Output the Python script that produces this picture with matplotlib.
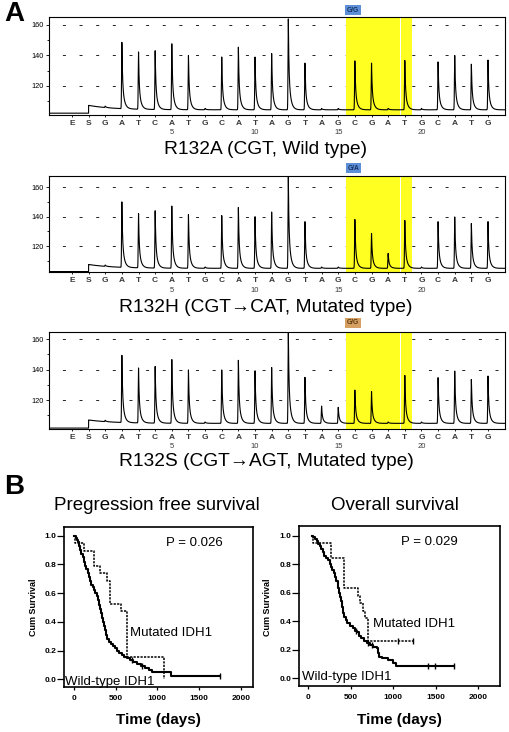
import numpy as np
import matplotlib
matplotlib.use("Agg")
import matplotlib.pyplot as plt
from matplotlib.transforms import blended_transform_factory

plt.rcParams['font.family'] = ['Liberation Sans', 'DejaVu Sans']
plt.rcParams['lines.scale_dashes'] = False

W, H = 510, 732

# ---- panel A: pyrosequencing traces ----
dispensation = ['E', 'S', 'G', 'A', 'T', 'C', 'A', 'T', 'G', 'C', 'A', 'T', 'A',
                'G', 'T', 'A', 'G', 'C', 'G', 'A', 'T', 'G', 'C', 'A', 'T', 'G']
position_labels = {6: '5', 11: '10', 16: '15', 21: '20'}

# peak top (signal units) per dispensation, 0 = no incorporation
peaks_r132a = [0, 0, 0, 148, 142, 143, 148, 140, 0, 139, 145.6, 139, 141.4,
               164.5, 135, 0, 0, 136.6, 135, 0, 137, 0, 136, 140, 134.4, 137]
peaks_r132h = [0, 0, 0, 149.5, 141.8, 143.9, 147.5, 141.4, 0, 140.7, 146.4, 140, 143.2,
               168, 136.6, 0, 0, 138.2, 128.6, 115, 137.7, 0, 136.8, 139.8, 135.5, 136.6]
peaks_r132s = [0, 0, 0, 148.9, 140.8, 141.9, 146.9, 139.7, 0, 139.7, 146.2, 139.2, 141.4,
               166, 134.9, 116.1, 115.2, 126.6, 125.5, 0, 136.4, 0, 134.9, 139, 133.6, 135.7]

# baseline: before enzyme, after substrate step, settled
base_r132a = [102.2, 107.3, 104.4]
base_r132h = [102.7, 107.5, 104.9]
base_r132s = [101.6, 106.9, 104.7]

titles_a = ['R132A (CGT, Wild type)', 'R132H (CGT\u2192CAT, Mutated type)',
            'R132S (CGT\u2192AGT, Mutated type)']
badges = ['G/G', 'G/A', 'G/G']

# ---- panel B: Kaplan-Meier curves ----
pfs_wt_t = [0, 20, 35, 50, 60, 75, 90, 105, 120, 135, 150, 165, 180, 195, 210, 225, 240,
            255, 275, 290, 300, 312, 322, 335, 350, 362, 375, 388, 400, 415, 440, 465,
            490, 515, 545, 575, 600, 630, 670, 710, 760, 800, 850, 900, 930, 1160]
pfs_wt_s = [1.0, 0.986, 0.972, 0.958, 0.93, 0.90, 0.875, 0.85, 0.82, 0.79, 0.765, 0.74,
            0.71, 0.685, 0.66, 0.64, 0.62, 0.60, 0.58, 0.55, 0.52, 0.49, 0.46, 0.43, 0.40,
            0.37, 0.34, 0.31, 0.28, 0.26, 0.245, 0.23, 0.215, 0.20, 0.185, 0.17, 0.155,
            0.145, 0.135, 0.12, 0.108, 0.095, 0.08, 0.068, 0.053, 0.026]
pfs_wt_end = 1745
pfs_wt_cens = [700, 820, 1745]

pfs_mut_t = [0, 15, 120, 240, 315, 392, 432, 565, 632, 1075]
pfs_mut_s = [1.0, 0.947, 0.895, 0.789, 0.737, 0.684, 0.526, 0.474, 0.158, 0.0]
pfs_mut_end = 1075
pfs_mut_cens = []

os_wt_t = [40, 60, 80, 100, 118, 135, 150, 170, 190, 210, 235, 250, 265, 280, 302, 315,
           330, 345, 353, 362, 370, 381, 392, 405, 420, 440, 460, 490, 520, 550, 577, 600,
           625, 655, 690, 726, 760, 804, 824, 835, 870, 941, 1000, 1031]
os_wt_s = [1.0, 0.99, 0.975, 0.96, 0.94, 0.925, 0.91, 0.885, 0.86, 0.845, 0.83, 0.80,
           0.78, 0.76, 0.74, 0.71, 0.68, 0.655, 0.63, 0.60, 0.57, 0.54, 0.50, 0.46, 0.43,
           0.41, 0.39, 0.365, 0.35, 0.335, 0.325, 0.30, 0.28, 0.26, 0.245, 0.234, 0.22,
           0.21, 0.175, 0.152, 0.14, 0.13, 0.11, 0.088]
os_wt_end = 1717
os_wt_cens = [565, 700, 745, 1412, 1490, 1717]

os_mut_t = [40, 55, 270, 420, 590, 612, 640, 667, 706]
os_mut_s = [1.0, 0.947, 0.842, 0.632, 0.579, 0.526, 0.474, 0.421, 0.263]
os_mut_end = 1230
os_mut_cens = [1050, 1230]

p_values = ['P = 0.026', 'P = 0.029']
km_titles = ['Pregression free survival', 'Overall survival']


def rect(left, top, right, bottom):
    return [left / W, 1 - bottom / H, (right - left) / W, (bottom - top) / H]


fig = plt.figure(figsize=(W / 100, H / 100), dpi=100)

pyro_boxes = [(49, 17, 505, 115), (49, 176, 505, 272), (49, 332, 505, 429)]
pyro_ylims = [(101.0, 165.2), (102.4, 167.6), (101.0, 164.6)]
number_y = [133, 290, 446]
title_y = [150, 307, 462]
badge_y = [10, 168, 323]
badge_colors = [('#5d8fd8', '#16305e'), ('#5d8fd8', '#16305e'), ('#d6a062', '#5a3a12')]
all_peaks = [peaks_r132a, peaks_r132h, peaks_r132s]
all_bases = [base_r132a, base_r132h, base_r132s]

xs = np.linspace(-1.38, 26.02, 9000)
for k in range(3):
    ax = fig.add_axes(rect(*pyro_boxes[k]))
    pre, step, base = all_bases[k]
    # baseline with substrate step at S
    trace = np.where(xs < 1.0, pre, base + (step - base) * np.exp(-(xs - 1.0) / 1.5))
    for i, h in enumerate(all_peaks[k]):
        d = xs - i
        if h > 0:
            amp = h - base
        elif i > 1:
            amp = 0.9
        else:
            continue
        shape = np.where(d < 0, np.exp(-(d / 0.025) ** 2),
                         0.55 * np.exp(-d / 0.035) + 0.45 * np.exp(-d / 0.12))
        trace = trace + amp * shape
    ax.plot(xs, trace, color='black', lw=0.8, zorder=3)

    ax.axvspan(16.45, 19.69, color='#ffff22', lw=0, zorder=1)
    ax.axvspan(19.75, 20.41, color='#ffff22', lw=0, zorder=1)
    for v in (120, 140, 160):
        ax.axhline(v, xmin=11 / 456, xmax=1, color='#222222', lw=0.7,
                   ls=(10.25, (2.16, 9.82)), zorder=0.5)

    ax.set_xlim(-1.38, 26.02)
    ax.set_ylim(*pyro_ylims[k])
    ax.set_yticks([120, 140, 160])
    ax.set_yticks([110, 130, 150], minor=True)
    ax.tick_params(axis='y', which='major', direction='out', length=2.5, width=0.6,
                   labelsize=5.3, pad=1)
    ax.tick_params(axis='y', which='minor', direction='out', length=1.8, width=0.6)
    ax.set_xticks(range(len(dispensation)))
    ax.set_xticklabels(dispensation, fontsize=6, fontweight='bold', color='#3a3a3a')
    ax.tick_params(axis='x', direction='out', length=1.5, width=0.6, pad=2)
    for sp in ax.spines.values():
        sp.set_linewidth(0.8)

    tr = blended_transform_factory(ax.transData, fig.transFigure)
    for idx, lab in position_labels.items():
        ax.text(idx, 1 - number_y[k] / H, lab, transform=tr, ha='center', va='center',
                fontsize=5.5, color='#3a3a3a')
    fc, tc = badge_colors[k]
    ax.text(16.9, 1 - badge_y[k] / H, badges[k], transform=tr, ha='center', va='center',
            fontsize=4.8, fontweight='bold', color=tc,
            bbox=dict(boxstyle='square,pad=0.25', fc=fc, ec='none'))
    fig.text(266 / W, 1 - title_y[k] / H, titles_a[k], ha='center', va='center',
             fontsize=13.8)

fig.text(14 / W, 1 - 14 / H, 'A', ha='center', va='center', fontsize=20, fontweight='bold')
fig.text(14 / W, 1 - 487 / H, 'B', ha='center', va='center', fontsize=20, fontweight='bold')

# ---- Kaplan-Meier panels ----
km_boxes = [(64.3, 526.7, 252.7, 687.3), (299.3, 526, 500, 686)]
km_xlims = [(-116, 2143), (-106, 2255)]
km_ylims = [(-0.056, 1.063), (-0.054, 1.068)]
km_curves = [
    [(pfs_wt_t, pfs_wt_s, pfs_wt_end, pfs_wt_cens), (pfs_mut_t, pfs_mut_s, pfs_mut_end, pfs_mut_cens)],
    [(os_wt_t, os_wt_s, os_wt_end, os_wt_cens), (os_mut_t, os_mut_s, os_mut_end, os_mut_cens)],
]
p_pos = [(1447, 0.951), (1420, 0.958)]
mut_pos = [(671, 0.322), (757, 0.381)]
wt_pos = [(-108, -0.017), (-78, 0.011)]
km_title_x = [157, 395]
km_center_x = [158.5, 399.7]
ylabel_x = [34, 267]

for k in range(2):
    ax = fig.add_axes(rect(*km_boxes[k]))
    for j, (t, s, end, cens) in enumerate(km_curves[k]):
        tt = list(t) + [end]
        ss = list(s) + [s[-1]]
        if j == 0:
            ax.step(tt, ss, where='post', color='black', lw=1.5, zorder=3)
        else:
            ax.step(tt, ss, where='post', color='black', lw=1.1, ls=(0, (1.6, 0.9)), zorder=2)
        if cens:
            idx = np.searchsorted(t, cens, side='right') - 1
            ax.plot(cens, np.array(s)[idx], ls='none', marker='|', ms=4, mew=1.0,
                    color='black', zorder=4)
    ax.set_xlim(*km_xlims[k])
    ax.set_ylim(*km_ylims[k])
    ax.set_xticks([0, 500, 1000, 1500, 2000])
    ax.set_yticks([0.0, 0.2, 0.4, 0.6, 0.8, 1.0])
    ax.set_yticklabels(['0.0', '0.2', '0.4', '0.6', '0.8', '1.0'])
    ax.tick_params(axis='y', direction='out', length=5, width=0.9, labelsize=6, pad=0.5)
    ax.tick_params(axis='x', direction='out', length=2.5, width=0.9, labelsize=6, pad=3)
    for lab in ax.get_xticklabels() + ax.get_yticklabels():
        lab.set_fontweight('bold')
    for sp in ax.spines.values():
        sp.set_linewidth(1.2)
    ax.text(*p_pos[k], p_values[k], ha='center', va='center', fontsize=9.5)
    ax.text(*mut_pos[k], 'Mutated IDH1', ha='left', va='center', fontsize=9.5)
    ax.text(*wt_pos[k], 'Wild-type IDH1', ha='left', va='center', fontsize=9.5)

    fig.text(km_title_x[k] / W, 1 - 505 / H, km_titles[k], ha='center', va='center',
             fontsize=13.5)
    fig.text(km_center_x[k] / W, 1 - 720 / H, 'Time (days)', ha='center', va='center',
             fontsize=11, fontweight='bold')
    fig.text(ylabel_x[k] / W, 1 - 607 / H, 'Cum Survival', ha='center', va='center',
             rotation=90, fontsize=6.5, fontweight='bold')

fig.savefig('out.png', dpi=100)
